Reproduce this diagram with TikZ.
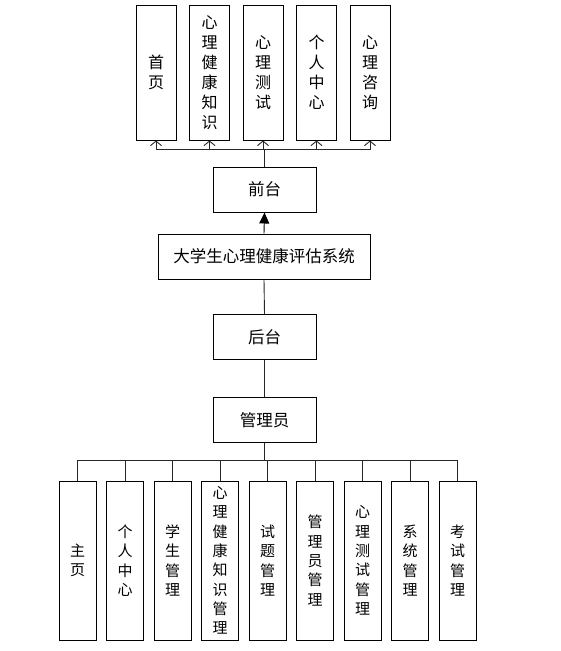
\documentclass[tikz,border=0pt]{standalone}
\usepackage{fontspec}
\newfontfamily\cjk{Noto Sans CJK SC}
\usetikzlibrary{arrows.meta,positioning}
\tikzset{
    box/.style={draw, line width=1pt, minimum width=103pt, minimum height=45pt,
        inner sep=0pt, font=\cjk\fontsize{16.5}{18}\selectfont},
    topbox/.style={draw, line width=1pt, minimum width=40pt, minimum height=135pt,
        inner sep=0pt, align=center, font=\cjk\fontsize{16}{20}\selectfont},
    subbox/.style={draw, line width=1pt, minimum width=37pt, minimum height=159pt,
        inner sep=0pt, align=center, font=\cjk\fontsize{15}{19.3}\selectfont},
    link/.style={line width=0.9pt, black!85},
}
\begin{document}
\begin{tikzpicture}[x=1pt, y=-1pt]
    \useasboundingbox (0,0) rectangle (561,651);
    % Front end
    \foreach \txt [count=\i] in {{首\\页}, {心\\理\\健\\康\\知\\识}, {心\\理\\测\\试},
        {个\\人\\中\\心}, {心\\理\\咨\\询}} {
        \pgfmathsetmacro\xx{102.5+53.5*\i}
        \node[topbox] (f\i) at (\xx, 72.5) {\txt};
    }
    \node[box] (qt) at (264.5, 189.5) {前台};
    \node[box, minimum width=212pt] (sys) at (264, 256.5) {大学生心理健康评估系统};
    \node[box] (ht) at (264.5, 337) {后台};
    \node[box] (gly) at (264.5, 420) {管理员};
    % Back end
    \foreach \txt [count=\i] in {{主\\页}, {个\\人\\中\\心}, {学\\生\\管\\理},
        {心\\理\\健\\康\\知\\识\\管\\理}, {试\\题\\管\\理}, {管\\理\\员\\管\\理},
        {心\\理\\测\\试\\管\\理}, {系\\统\\管\\理}, {考\\试\\管\\理}} {
        \pgfmathsetmacro\xx{30+47.5*\i}
        \node[subbox] (b\i) at (\xx, 560.5) {\txt};
    }
    \foreach \i in {1,...,5}
        \draw[link, -{Straight Barb[length=4.5pt, width=11pt]}]
            (qt.north) -- ++(0,-17) -| (f\i.south);
    \draw[line width=0.9pt, -{Triangle[length=11pt, width=10pt]}] (sys.north) -- (qt.south);
    \draw[link] (sys.south) -- (ht.north);
    \draw[link] (ht.south) -- (gly.north);
    \foreach \i in {1,...,9}
        \draw[link] (gly.south) -- ++(0,17) -| (b\i.north);
\end{tikzpicture}
\end{document}
